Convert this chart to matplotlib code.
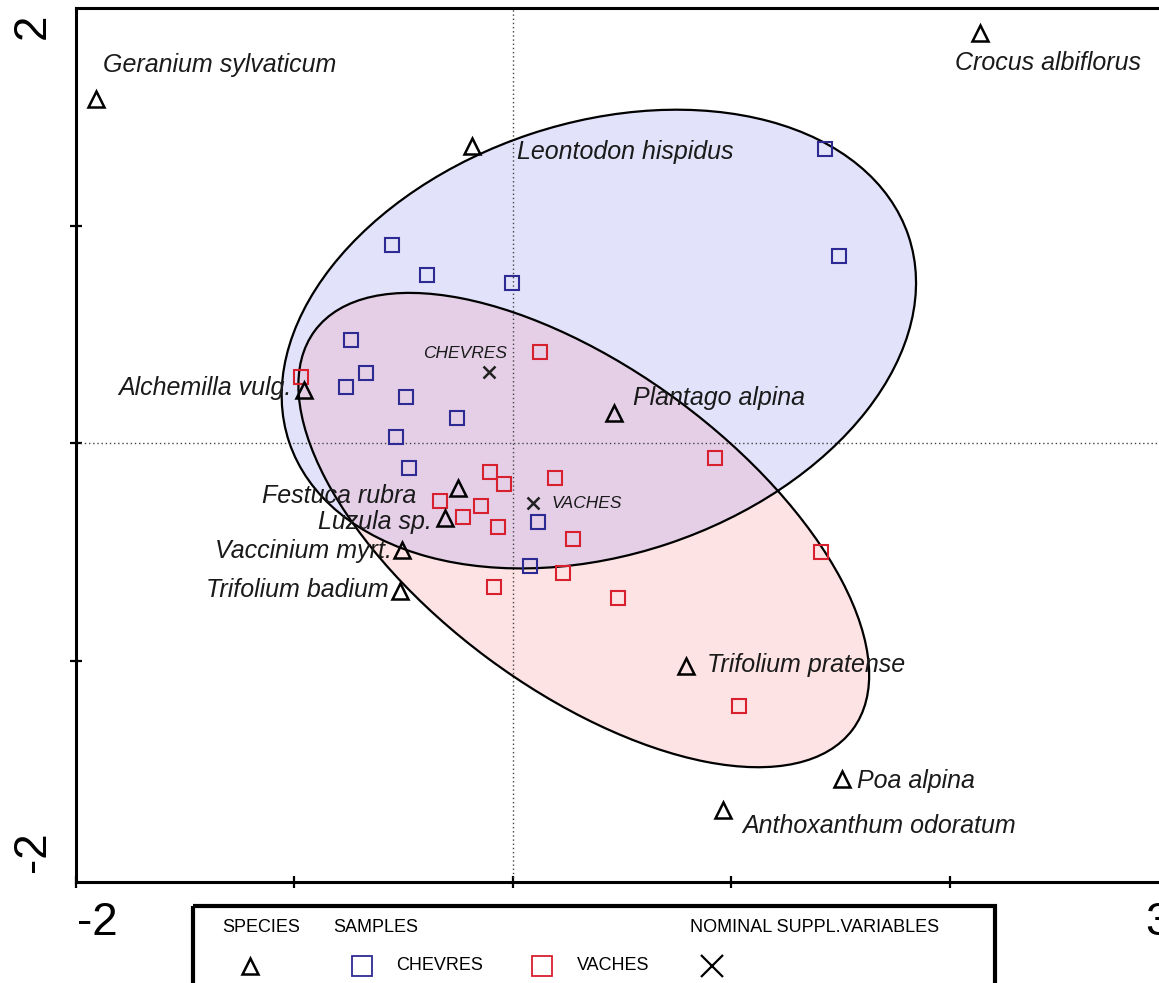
import matplotlib
matplotlib.use("Agg")
import matplotlib.pyplot as plt
from matplotlib.patches import Ellipse, Rectangle

plt.rcParams['font.family'] = ['Liberation Sans', 'DejaVu Sans']

# species scores (triangles)
species = ['Geranium sylvaticum', 'Crocus albiflorus', 'Leontodon hispidus',
           'Alchemilla vulg.', 'Plantago alpina', 'Festuca rubra', 'Luzula sp.',
           'Vaccinium myrt.', 'Trifolium badium', 'Trifolium pratense',
           'Poa alpina', 'Anthoxanthum odoratum']
species_x = [-1.908, 2.137, -0.188, -0.957, 0.462, -0.252, -0.311,
             -0.508, -0.517, 0.792, 1.506, 0.961]
species_y = [1.582, 1.885, 1.366, 0.244, 0.138, -0.207, -0.345,
             -0.492, -0.680, -1.025, -1.545, -1.687]

# samples: chevres (blue) and vaches (red)
chevres_x = [1.428, 1.492, -0.554, -0.394, -0.005, -0.741, -0.673,
             -0.764, -0.490, -0.256, -0.535, -0.476, 0.114, 0.078]
chevres_y = [1.352, 0.860, 0.910, 0.772, 0.736, 0.474, 0.322,
             0.257, 0.211, 0.115, 0.028, -0.115, -0.363, -0.566]
vaches_x = [-0.970, 0.124, 0.924, -0.105, -0.041, 0.192, -0.334, -0.146,
            -0.229, -0.069, 0.275, 0.229, -0.087, 0.481, 1.410, 1.034]
vaches_y = [0.303, 0.418, -0.069, -0.133, -0.189, -0.161, -0.267, -0.290,
            -0.340, -0.386, -0.441, -0.598, -0.662, -0.713, -0.501, -1.209]

# nominal supplementary variables (centroids)
suppl = ['CHEVRES', 'VACHES']
suppl_x = [-0.110, 0.092]
suppl_y = [0.326, -0.276]

# group envelopes: centre x, centre y, semi-axis a, semi-axis b, angle
env_chevres = (0.394, 0.478, 1.495, 0.993, 18.5)
env_vaches = (0.325, -0.400, 1.535, 0.735, -36.7)

# label offsets in pixels (dx, dy, ha)
sp_off = [(7, 34, 'left'), (-25, -30, 'left'), (45, -6, 'left'),
          (-12, 2, 'right'), (19, 15, 'left'), (-42, -8, 'right'),
          (-13, -4, 'right'), (-10, -1, 'right'), (-11, 1, 'right'),
          (21, 1, 'left'), (15, -2, 'left'), (20, -16, 'left')]
sup_off = [(-66, 19), (19, 0)]

W, H = 1159, 983
fig = plt.figure(figsize=(W / 100, H / 100), dpi=100)
ax = fig.add_axes([76 / W, (H - 882) / H, (1168 - 76) / W, (882 - 8) / H])
ax.set_xlim(-2, 3)
ax.set_ylim(-2.018, 2.0)

blue_fill = '#e2e2fa'
red_fill = '#fde3e3'
mix_fill = '#e4cfe7'
blue_edge = '#2e2a94'
red_edge = '#d8202f'


def make_ell(p, **kw):
    return Ellipse((p[0], p[1]), 2 * p[2], 2 * p[3], angle=p[4], **kw)


e1 = make_ell(env_chevres, facecolor=blue_fill, edgecolor='none', zorder=1)
e2 = make_ell(env_vaches, facecolor=red_fill, edgecolor='none', zorder=1.1)
ax.add_patch(e1)
ax.add_patch(e2)
e3 = make_ell(env_vaches, facecolor=mix_fill, edgecolor='none', zorder=1.2)
ax.add_patch(e3)
e3.set_clip_path(e1)
ax.add_patch(make_ell(env_chevres, facecolor='none', edgecolor='black', lw=1.6, zorder=3))
ax.add_patch(make_ell(env_vaches, facecolor='none', edgecolor='black', lw=1.6, zorder=3))

ax.axhline(0, color='#444444', lw=1.0, ls=(0, (1, 2)), zorder=2)
ax.axvline(0, color='#444444', lw=1.0, ls=(0, (1, 2)), zorder=2)

ax.plot(chevres_x, chevres_y, 's', ms=9.5, mfc='none', mec=blue_edge, mew=1.5, zorder=4)
ax.plot(vaches_x, vaches_y, 's', ms=9.5, mfc='none', mec=red_edge, mew=1.5, zorder=4)
ax.plot(species_x, species_y, '^', ms=11.5, mfc='none', mec='black', mew=1.8, zorder=5)
ax.plot(suppl_x, suppl_y, 'x', ms=9, mec='#222222', mew=1.8, zorder=5)

for name, x, y, (dx, dy, ha) in zip(species, species_x, species_y, sp_off):
    ax.annotate(name, (x, y), xytext=(dx, dy), textcoords='offset pixels',
                ha=ha, va='center', fontsize=18, style='italic', color='#1a1a1a', zorder=6)
for name, x, y, (dx, dy) in zip(suppl, suppl_x, suppl_y, sup_off):
    ax.annotate(name, (x, y), xytext=(dx, dy), textcoords='offset pixels',
                ha='left', va='center', fontsize=12.5, style='italic', color='#1a1a1a', zorder=6)

for s in ['left', 'bottom', 'top']:
    ax.spines[s].set_linewidth(2.2)
ax.spines['right'].set_visible(False)
ax.set_xticks([-2, -1, 0, 1, 2])
ax.set_yticks([-1, 0, 1])
ax.tick_params(direction='inout', length=9, width=1.6, labelbottom=False, labelleft=False)

# axis end labels (the "3" is cut by the right edge as in the source)
fig.text(97 / W, 1 - 923 / H, '-2', ha='center', va='center', fontsize=33)
fig.text(1158 / W, 1 - 923 / H, '3', ha='center', va='center', fontsize=33)
fig.text(33 / W, 1 - 26 / H, '2', ha='center', va='center', fontsize=33, rotation=90)
fig.text(33 / W, 1 - 852 / H, '-2', ha='center', va='center', fontsize=33, rotation=90)

# legend box at the bottom
lax = fig.add_axes([0, 0, 1, 1])
lax.set_xlim(0, W)
lax.set_ylim(H, 0)
lax.axis('off')
lax.add_patch(Rectangle((193, 906), 802, 90, fill=False, lw=3, edgecolor='black'))
for txt, x in [('SPECIES', 222), ('SAMPLES', 333), ('NOMINAL SUPPL.VARIABLES', 690)]:
    lax.text(x, 928, txt, ha='left', va='center', fontsize=13)
lax.plot([250], [966], '^', ms=12, mfc='none', mec='black', mew=1.8)
lax.plot([362], [966], 's', ms=14, mfc='none', mec=blue_edge, mew=1.3)
lax.plot([542], [966], 's', ms=14, mfc='none', mec=red_edge, mew=1.3)
lax.plot([712], [966], 'x', ms=16, mec='black', mew=1.6)
lax.text(396, 966, 'CHEVRES', ha='left', va='center', fontsize=13)
lax.text(577, 966, 'VACHES', ha='left', va='center', fontsize=13)

fig.savefig('out.png', dpi=100)
